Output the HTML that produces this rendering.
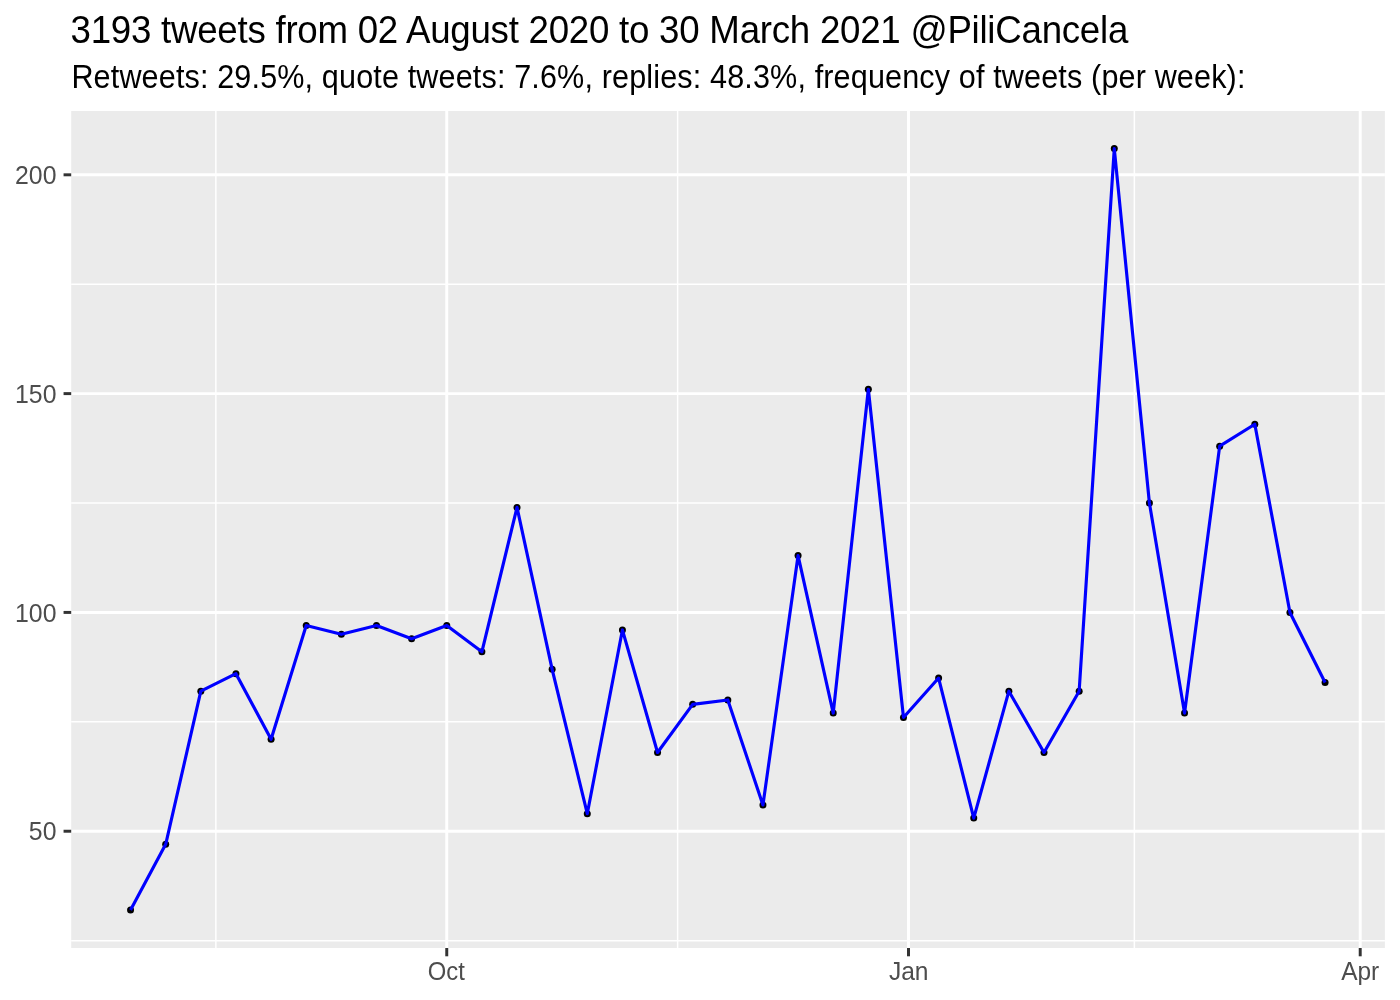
<!DOCTYPE html>
<html><head><meta charset="utf-8"><title>tweets</title>
<style>
html,body{margin:0;padding:0;background:#fff;}
body{width:1400px;height:1000px;overflow:hidden;}
svg{display:block;font-family:"Liberation Sans",sans-serif;}
</style></head><body>
<svg width="1400" height="1000" viewBox="0 0 1400 1000">
<rect width="1400" height="1000" fill="#ffffff"/>
<rect x="71.20" y="111.00" width="1313.70" height="837.00" fill="#EBEBEB"/>
<g stroke="#ffffff" stroke-width="1.48" fill="none">
<line x1="71.20" x2="1384.90" y1="940.64" y2="940.64"/>
<line x1="71.20" x2="1384.90" y1="721.83" y2="721.83"/>
<line x1="71.20" x2="1384.90" y1="503.02" y2="503.02"/>
<line x1="71.20" x2="1384.90" y1="284.21" y2="284.21"/>
<line x1="215.88" x2="215.88" y1="111.00" y2="948.00"/>
<line x1="677.63" x2="677.63" y1="111.00" y2="948.00"/>
<line x1="1134.36" x2="1134.36" y1="111.00" y2="948.00"/>
</g>
<g stroke="#ffffff" stroke-width="2.96" fill="none">
<line x1="71.20" x2="1384.90" y1="831.23" y2="831.23"/>
<line x1="71.20" x2="1384.90" y1="612.42" y2="612.42"/>
<line x1="71.20" x2="1384.90" y1="393.62" y2="393.62"/>
<line x1="71.20" x2="1384.90" y1="174.81" y2="174.81"/>
<line x1="446.75" x2="446.75" y1="111.00" y2="948.00"/>
<line x1="908.50" x2="908.50" y1="111.00" y2="948.00"/>
<line x1="1360.21" x2="1360.21" y1="111.00" y2="948.00"/>
</g>
<g fill="#000000">
<circle cx="130.55" cy="910.00" r="3.5"/>
<circle cx="165.69" cy="844.36" r="3.5"/>
<circle cx="200.82" cy="691.20" r="3.5"/>
<circle cx="235.95" cy="673.69" r="3.5"/>
<circle cx="271.09" cy="739.33" r="3.5"/>
<circle cx="306.22" cy="625.55" r="3.5"/>
<circle cx="341.35" cy="634.31" r="3.5"/>
<circle cx="376.49" cy="625.55" r="3.5"/>
<circle cx="411.62" cy="638.68" r="3.5"/>
<circle cx="446.75" cy="625.55" r="3.5"/>
<circle cx="481.88" cy="651.81" r="3.5"/>
<circle cx="517.02" cy="507.40" r="3.5"/>
<circle cx="552.15" cy="669.31" r="3.5"/>
<circle cx="587.28" cy="813.73" r="3.5"/>
<circle cx="622.42" cy="629.93" r="3.5"/>
<circle cx="657.55" cy="752.46" r="3.5"/>
<circle cx="692.68" cy="704.32" r="3.5"/>
<circle cx="727.82" cy="699.95" r="3.5"/>
<circle cx="762.95" cy="804.98" r="3.5"/>
<circle cx="798.08" cy="555.54" r="3.5"/>
<circle cx="833.22" cy="713.08" r="3.5"/>
<circle cx="868.35" cy="389.24" r="3.5"/>
<circle cx="903.48" cy="717.45" r="3.5"/>
<circle cx="938.61" cy="678.07" r="3.5"/>
<circle cx="973.75" cy="818.10" r="3.5"/>
<circle cx="1008.88" cy="691.20" r="3.5"/>
<circle cx="1044.01" cy="752.46" r="3.5"/>
<circle cx="1079.15" cy="691.20" r="3.5"/>
<circle cx="1114.28" cy="148.55" r="3.5"/>
<circle cx="1149.41" cy="503.02" r="3.5"/>
<circle cx="1184.55" cy="713.08" r="3.5"/>
<circle cx="1219.68" cy="446.13" r="3.5"/>
<circle cx="1254.81" cy="424.25" r="3.5"/>
<circle cx="1289.94" cy="612.42" r="3.5"/>
<circle cx="1325.08" cy="682.44" r="3.5"/>
</g>
<polyline fill="none" stroke="#0000FF" stroke-width="3.15" stroke-linejoin="round" stroke-linecap="butt" points="130.55,910.00 165.69,844.36 200.82,691.20 235.95,673.69 271.09,739.33 306.22,625.55 341.35,634.31 376.49,625.55 411.62,638.68 446.75,625.55 481.88,651.81 517.02,507.40 552.15,669.31 587.28,813.73 622.42,629.93 657.55,752.46 692.68,704.32 727.82,699.95 762.95,804.98 798.08,555.54 833.22,713.08 868.35,389.24 903.48,717.45 938.61,678.07 973.75,818.10 1008.88,691.20 1044.01,752.46 1079.15,691.20 1114.28,148.55 1149.41,503.02 1184.55,713.08 1219.68,446.13 1254.81,424.25 1289.94,612.42 1325.08,682.44"/>
<g stroke="#333333" stroke-width="2.96" fill="none">
<line x1="63.56" x2="71.20" y1="831.23" y2="831.23"/>
<line x1="63.56" x2="71.20" y1="612.42" y2="612.42"/>
<line x1="63.56" x2="71.20" y1="393.62" y2="393.62"/>
<line x1="63.56" x2="71.20" y1="174.81" y2="174.81"/>
<line x1="446.75" x2="446.75" y1="948.00" y2="956.30"/>
<line x1="908.50" x2="908.50" y1="948.00" y2="956.30"/>
<line x1="1360.21" x2="1360.21" y1="948.00" y2="956.30"/>
</g>
<g fill="#4D4D4D" font-size="24.44px">
<text transform="translate(56.45,840.1) scale(1.015,1.06)" text-anchor="end">50</text>
<text transform="translate(56.45,622.1) scale(1.015,1.06)" text-anchor="end">100</text>
<text transform="translate(56.45,403.1) scale(1.015,1.06)" text-anchor="end">150</text>
<text transform="translate(56.45,184.1) scale(1.015,1.06)" text-anchor="end">200</text>
<text transform="translate(446.35,980.1) scale(0.975,1.06)" text-anchor="middle">Oct</text>
<text transform="translate(908.70,980.1) scale(1.006,1.06)" text-anchor="middle">Jan</text>
<text transform="translate(1360.21,980.1) scale(1.0,1.06)" text-anchor="middle">Apr</text>
</g>
<text transform="translate(70.5,43.0) scale(1,1.04)" font-size="36.67px" fill="#000000" textLength="1057.8" lengthAdjust="spacing">3193 tweets from 02 August 2020 to 30 March 2021 @PiliCancela</text>
<text transform="translate(71.4,88.0) scale(1,1.06)" font-size="30.56px" fill="#000000" textLength="1174.0" lengthAdjust="spacing">Retweets: 29.5%, quote tweets: 7.6%, replies: 48.3%, frequency of tweets (per week):</text>
</svg>
</body></html>
